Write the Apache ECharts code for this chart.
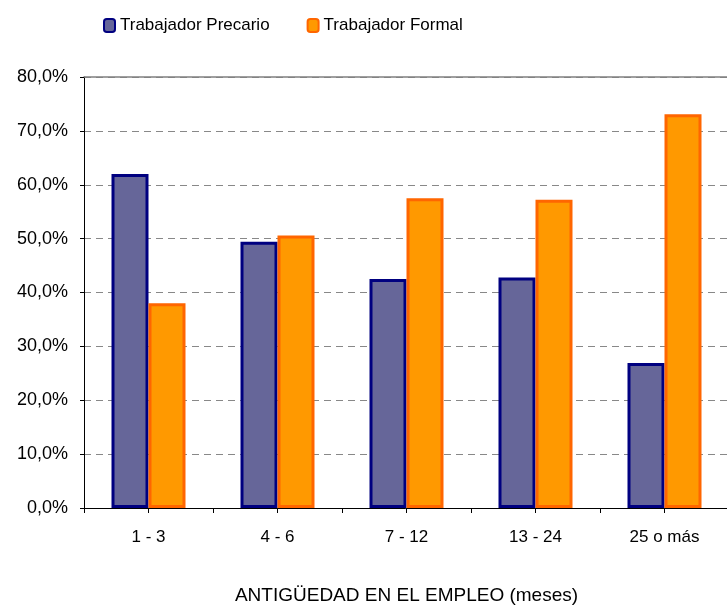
<!DOCTYPE html>
<html>
<head>
<meta charset="utf-8">
<script src="https://cdn.jsdelivr.net/npm/echarts@6/dist/echarts.min.js"></script>
<style>
html,body{margin:0;padding:0;background:#fff;}
#chart{width:727px;height:607px;}
</style>
</head>
<body>
<div id="chart"></div>
<script>
var categories = ['1 - 3', '4 - 6', '7 - 12', '13 - 24', '25 o más'];
var precario = [62.0, 49.4, 42.5, 42.8, 26.9];
var formal = [38.0, 50.6, 57.5, 57.2, 73.1];
var seriesNames = ['Trabajador Precario', 'Trabajador Formal'];
var axisTitle = 'ANTIGÜEDAD EN EL EMPLEO (meses)';

var chart = echarts.init(document.getElementById('chart'), null, {renderer: 'canvas'});
var font = 'Liberation Sans, Arial, sans-serif';
chart.setOption({
  animation: false,
  backgroundColor: '#ffffff',
  textStyle: {fontFamily: font},
  legend: {
    data: seriesNames,
    left: 98,
    top: 12,
    itemWidth: 11,
    itemHeight: 13,
    itemGap: 37,
    textStyle: {fontSize: 17, color: '#000', fontFamily: font},
    itemStyle: {borderWidth: 2}
  },
  grid: {left: 84, top: 77, width: 645, height: 431, containLabel: false, outerBoundsMode: 'none'},
  xAxis: [{
    type: 'category',
    data: categories,
    position: 'bottom',
    axisLine: {lineStyle: {color: '#000', width: 1}},
    axisTick: {show: true, length: 5, interval: 0, lineStyle: {color: '#000'}},
    axisLabel: {fontSize: 17, color: '#000', margin: 21, fontFamily: font, interval: 0},
    name: axisTitle,
    nameLocation: 'middle',
    nameGap: 78,
    nameTextStyle: {fontSize: 19, color: '#000', fontFamily: font},
    splitLine: {show: false}
  }, {
    type: 'category',
    data: categories,
    position: 'bottom',
    axisLine: {show: false},
    axisTick: {show: true, alignWithLabel: true, length: 5, interval: 0, lineStyle: {color: '#000'}},
    axisLabel: {show: false},
    splitLine: {show: false}
  }, {
    type: 'category',
    data: categories,
    position: 'top',
    axisLine: {show: true, lineStyle: {color: '#808080', width: 1.5}},
    axisTick: {show: false},
    axisLabel: {show: false},
    splitLine: {show: false}
  }],
  yAxis: {
    type: 'value',
    min: 0,
    max: 80,
    interval: 10,
    axisLine: {show: true, lineStyle: {color: '#000', width: 1}},
    axisTick: {show: true, length: 4, lineStyle: {color: '#000'}},
    axisLabel: {
      fontSize: 18, color: '#000', margin: 16, fontFamily: font,
      formatter: function (v) { return v.toFixed(1).replace('.', ',') + '%'; }
    },
    splitLine: {show: true, lineStyle: {color: '#888888', type: [7, 5], width: 1}}
  },
  series: [{
    name: seriesNames[0],
    type: 'bar',
    data: precario,
    barWidth: 37,
    barGap: '0%',
    itemStyle: {color: '#666699', borderColor: '#000080', borderWidth: 3}
  }, {
    name: seriesNames[1],
    type: 'bar',
    data: formal,
    barWidth: 37,
    itemStyle: {color: '#FF9900', borderColor: '#FF6600', borderWidth: 3}
  }]
});
</script>
</body>
</html>
